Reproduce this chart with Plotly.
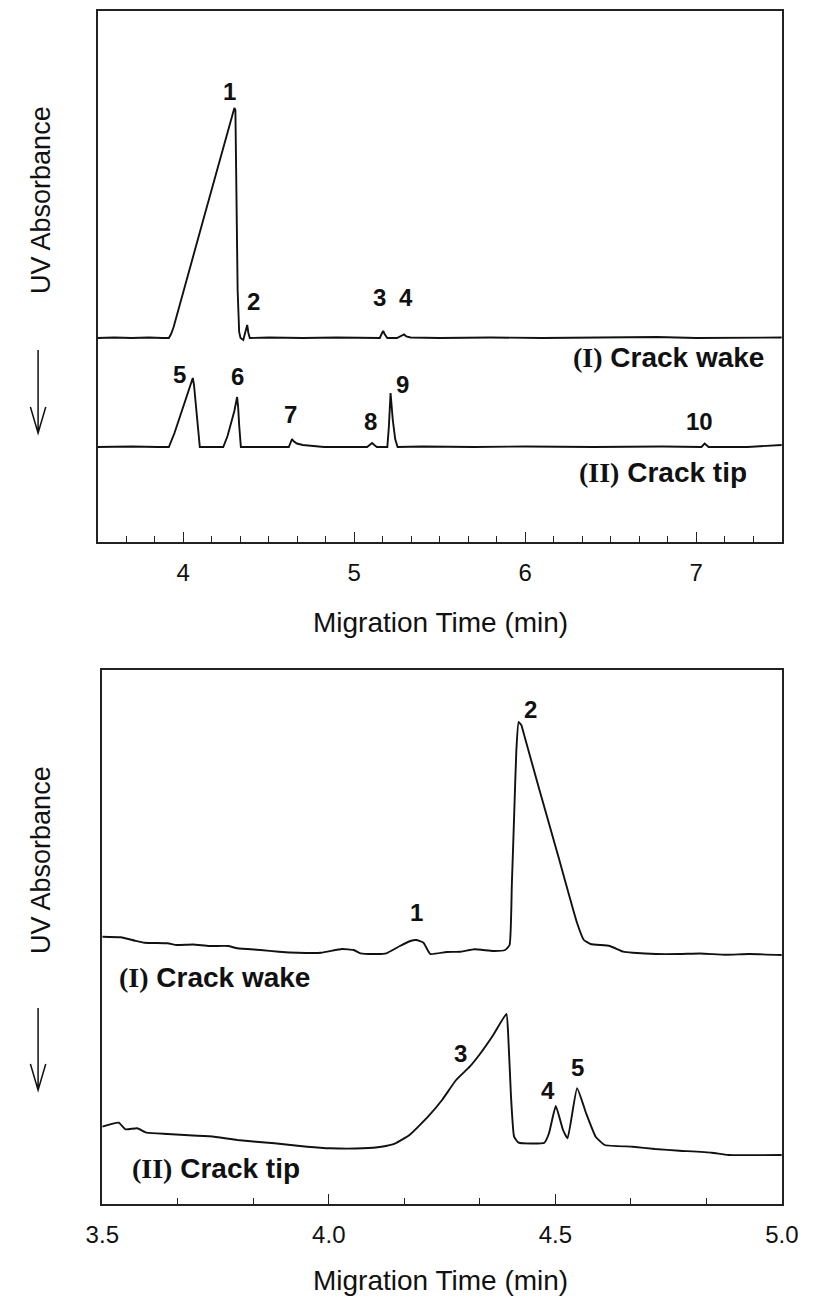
import plotly.graph_objects as go

# ---------------- data (migration time in min, signal in arbitrary units above baseline) -------------
# Upper panel, trace (I) crack wake
top_wake_t = [3.50, 3.60, 3.70, 3.80, 3.88, 3.917, 3.93, 3.945, 4.113, 4.300, 4.306, 4.319, 4.328, 4.336,
              4.352, 4.366, 4.375, 4.382, 4.390, 4.50, 4.70, 4.90, 5.10, 5.150, 5.163, 5.170, 5.178, 5.194,
              5.25, 5.28, 5.292, 5.305, 5.33, 5.50, 5.80, 6.10, 6.50, 6.77, 7.00, 7.30, 7.50]
top_wake_h = [0, 0.5, 0, 0.5, 0, 0, 4, 11, 115, 230, 228, 48, 6, 0,
              -2, 6, 13, 5, 0, 0.5, 0, 0.5, 0, 0, 5, 7, 4, 0,
              0, 2, 3.5, 1.5, 0.5, 0, 0.5, 0, 0.5, 1, 0, 0.5, 0.5]
# Upper panel, trace (II) crack tip
top_tip_t = [3.50, 3.70, 3.85, 3.917, 3.95, 3.982, 4.039, 4.057, 4.064, 4.072, 4.078, 4.083, 4.089, 4.098,
             4.15, 4.235, 4.26, 4.282, 4.30, 4.316, 4.322, 4.328, 4.338, 4.45, 4.618, 4.630, 4.637, 4.645,
             4.665, 4.70, 4.749, 4.824, 5.076, 5.095, 5.105, 5.118, 5.133, 5.194, 5.203, 5.213, 5.220,
             5.226, 5.240, 5.254, 5.40, 5.70, 6.00, 6.40, 6.80, 7.03, 7.049, 7.072, 7.30, 7.45, 7.50]
top_tip_h = [0, 0.5, 0, 0, 14, 31, 59, 69, 62, 47, 31, 28, 10, 0,
             0, 0, 11, 24, 36, 50, 40, 22, 0, 0, 0, 5, 8, 6,
             3.5, 2, 1, 0, 0, 3, 4, 2, 0, 0, 20, 54, 40,
             27, 8, 0, 0.5, 0, 0.5, 0, 0.5, 0, 3.5, 0, 0, 1.5, 2]
top_offsets = {"wake": 204, "tip": 95}

# Lower panel, trace (I) crack wake
bot_wake_t = [3.500, 3.541, 3.572, 3.593, 3.644, 3.664, 3.700, 3.736, 3.778, 3.798, 3.849, 3.890, 3.932,
              3.983, 4.029, 4.055, 4.070, 4.106, 4.127, 4.157, 4.180, 4.193, 4.209, 4.224, 4.260, 4.291,
              4.322, 4.363, 4.389, 4.399, 4.404, 4.409, 4.414, 4.419, 4.425, 4.430, 4.465, 4.507, 4.548,
              4.563, 4.578, 4.620, 4.650, 4.671, 4.722, 4.774, 4.820, 4.876, 4.928, 5.000]
bot_wake_h = [18.3, 17.7, 14.3, 12.3, 11.7, 10, 10.5, 9, 9, 6.7, 5, 3.3, 2.3,
              2.3, 6, 5, 1.7, 1, 1.7, 9, 14, 15, 12.3, 1, 3, 3.3,
              5.7, 4, 5, 10, 70, 138, 205, 233, 230, 222, 165, 98, 32,
              15, 11, 9, 3.3, 2.3, 1, 1, 1.5, 0.3, 1, 0]
# Lower panel, trace (II) crack tip
bot_tip_t = [3.500, 3.536, 3.551, 3.577, 3.598, 3.644, 3.700, 3.747, 3.798, 3.880, 3.952, 4.003, 4.075,
             4.116, 4.147, 4.178, 4.219, 4.250, 4.281, 4.311, 4.332, 4.363, 4.392, 4.396, 4.402, 4.409,
             4.419, 4.476, 4.486, 4.501, 4.517, 4.527, 4.548, 4.568, 4.589, 4.609, 4.671, 4.720, 4.774,
             4.845, 4.882, 5.000]
bot_tip_h = [28.3, 32.3, 25.7, 26.7, 22.3, 21, 19.5, 18.3, 15, 11.7, 8.3, 6.7, 6.7,
             8.3, 11.7, 20, 38.3, 55, 75, 88.3, 100, 120, 141, 120, 60, 18.3,
             12.3, 12.3, 21.7, 49, 25, 16.7, 66.7, 41.7, 18.3, 10, 8.3, 6, 4.3,
             2.3, 0, 0]
bot_offsets = {"wake": 249, "tip": 49}

# Peak numbers (label, time, signal level)
top_peak_labels = ["1", "2", "3", "4", "5", "6", "7", "8", "9", "10"]
top_peak_x = [4.273, 4.414, 5.149, 5.306, 3.982, 4.319, 4.628, 5.093, 5.282, 7.021]
top_peak_y = [450, 240, 244, 244, 167, 165, 127, 120, 157, 120]
bot_peak_labels = ["1", "2", "3", "4", "5"]
bot_peak_x = [4.193, 4.445, 4.290, 4.483, 4.549]
bot_peak_y = [291, 494, 151, 114, 137]

top_ticks = [4, 5, 6, 7]
bot_ticks = [3.5, 4.0, 4.5, 5.0]
bot_tick_text = ["3.5", "4.0", "4.5", "5.0"]

# ---------------- figure ----------------
W, H = 818, 1300
INK = "#111111"
FONT = "Liberation Sans, Arial, sans-serif"


def fx(px):
    return px / W


def fy(py):
    return 1 - py / H


fig = go.Figure()
sharp = dict(color=INK, width=1.9)
smooth = dict(color=INK, width=1.9, shape="spline", smoothing=0.4)
fig.add_trace(go.Scatter(x=top_wake_t, y=[v + top_offsets["wake"] for v in top_wake_h], mode="lines",
                         line=sharp, xaxis="x", yaxis="y", showlegend=False, hoverinfo="skip"))
fig.add_trace(go.Scatter(x=top_tip_t, y=[v + top_offsets["tip"] for v in top_tip_h], mode="lines",
                         line=sharp, xaxis="x", yaxis="y", showlegend=False, hoverinfo="skip"))
fig.add_trace(go.Scatter(x=bot_wake_t, y=[v + bot_offsets["wake"] for v in bot_wake_h], mode="lines",
                         line=smooth, xaxis="x2", yaxis="y2", showlegend=False, hoverinfo="skip"))
fig.add_trace(go.Scatter(x=bot_tip_t, y=[v + bot_offsets["tip"] for v in bot_tip_h], mode="lines",
                         line=smooth, xaxis="x2", yaxis="y2", showlegend=False, hoverinfo="skip"))

minor_top = [3.5 + k / 6 for k in range(0, 25)]
minor_bot = [3.5 + k / 6 for k in range(0, 10)]

common_x = dict(showgrid=False, zeroline=False, showline=True, mirror=True, linecolor="#222",
                linewidth=1.5, ticks="inside", ticklen=10, tickwidth=1.4, tickcolor="#222",
                tickfont=dict(family=FONT, size=24, color=INK), ticklabelstandoff=8)
common_y = dict(showgrid=False, zeroline=False, showline=True, mirror=True, linecolor="#222",
                linewidth=1.5, ticks="", showticklabels=False, fixedrange=True)

fig.update_layout(
    width=W, height=H, margin=dict(l=0, r=0, t=0, b=0),
    paper_bgcolor="white", plot_bgcolor="white",
    xaxis=dict(domain=[fx(84), fx(798)], range=[3.5, 7.5], tickmode="array", tickvals=top_ticks,
               ticktext=[str(v) for v in top_ticks], anchor="y",
               minor=dict(tickmode="array", tickvals=minor_top, ticks="inside", ticklen=6,
                          tickwidth=1.2, tickcolor="#222"), **common_x),
    yaxis=dict(domain=[fy(542), fy(11)], range=[0, 531], anchor="x", **common_y),
    xaxis2=dict(domain=[fx(89), fx(798)], range=[3.5, 5.0], tickmode="array", tickvals=bot_ticks,
                ticktext=bot_tick_text, anchor="y2",
                minor=dict(tickmode="array", tickvals=minor_bot, ticks="inside", ticklen=6,
                           tickwidth=1.2, tickcolor="#222"), **common_x),
    yaxis2=dict(domain=[fy(1204), fy(670)], range=[0, 534], anchor="x2", **common_y),
)

ann = []
lab_font = dict(family=FONT, size=24, color=INK)
for t, x, y in zip(top_peak_labels, top_peak_x, top_peak_y):
    ann.append(dict(x=x, y=y, xref="x", yref="y", text="<b>%s</b>" % t, showarrow=False, font=lab_font))
for t, x, y in zip(bot_peak_labels, bot_peak_x, bot_peak_y):
    ann.append(dict(x=x, y=y, xref="x2", yref="y2", text="<b>%s</b>" % t, showarrow=False, font=lab_font))

serif = "font-family:Liberation Serif, Times New Roman, serif"
wake_txt = "<b><span style='%s'>(I)</span> Crack wake</b>" % serif
tip_txt = "<b><span style='%s'>(II)</span> Crack tip</b>" % serif
smp_font = dict(family=FONT, size=28, color=INK)
ann.append(dict(x=7.405, y=184, xref="x", yref="y", text=wake_txt, showarrow=False, xanchor="right", font=smp_font))
ann.append(dict(x=7.309, y=69, xref="x", yref="y", text=tip_txt, showarrow=False, xanchor="right", font=smp_font))
ann.append(dict(x=3.532, y=226, xref="x2", yref="y2", text=wake_txt, showarrow=False, xanchor="left", font=smp_font))
ann.append(dict(x=3.561, y=36, xref="x2", yref="y2", text=tip_txt, showarrow=False, xanchor="left", font=smp_font))

title_font = dict(family=FONT, size=28, color=INK)
for cy in (622, 1280):
    ann.append(dict(x=fx(442), y=fy(cy), xref="paper", yref="paper", text="Migration Time (min)",
                    showarrow=False, font=title_font, xanchor="center", yanchor="middle"))
for cy in (200, 860):
    ann.append(dict(x=fx(25), y=fy(cy), xref="paper", yref="paper", text="UV Absorbance", textangle=-90,
                    showarrow=False, font=dict(family=FONT, size=27, color=INK), xanchor="center", yanchor="middle"))
fig.update_layout(annotations=ann)

shapes = []
for y0, y1 in ((350, 433), (1008, 1090)):
    ax = fx(22)
    path = "M %f,%f L %f,%f M %f,%f L %f,%f L %f,%f" % (
        ax, fy(y0), ax, fy(y1), fx(14), fy(y1 - 26), ax, fy(y1), fx(30), fy(y1 - 26))
    shapes.append(dict(type="path", path=path, xref="paper", yref="paper", line=dict(color=INK, width=1.5)))
fig.update_layout(shapes=shapes)

fig.write_html("out.html")
